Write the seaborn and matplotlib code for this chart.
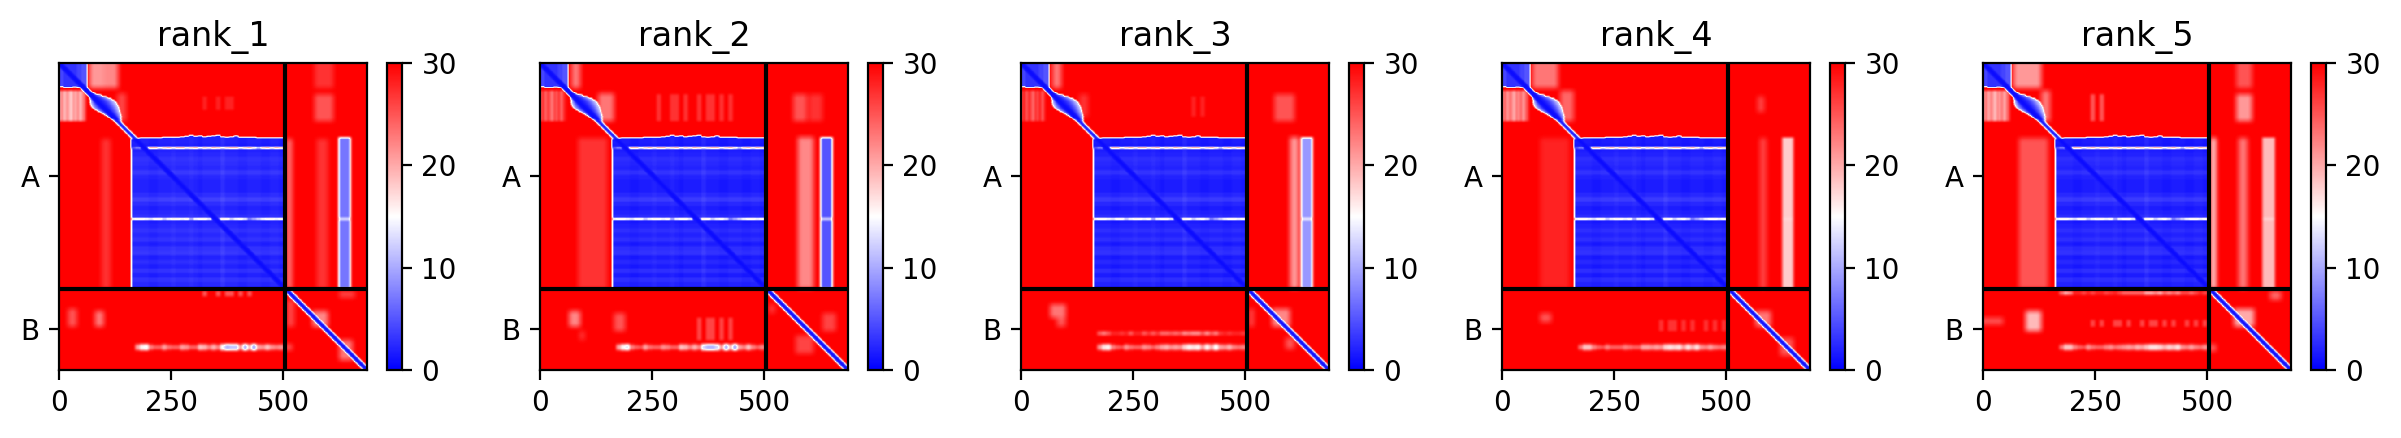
import numpy as np
import seaborn as sns
import matplotlib
matplotlib.use("Agg")
import matplotlib.pyplot as plt

ranks = ["rank_1", "rank_2", "rank_3", "rank_4", "rank_5"]
chain_names = ["A", "B"]
chain_a_len = 505
total_len = 687

# Shared PAE readings. Lists per 10 residues start at residue 160
big_row_levels = [0.8, 0.8, 0.6, 0.8, 1.2, 1.8, 1.5, 1.2, 2.1, 1.2, 0.8, 0.8, 0.8, 1.5, 2.6, 1.5, 0.8, 1.2,
                  1.8, 0.8, 1.2, 1.8, 1.2, 1.8, 0.8, 1.8, 2.1, 0.8, 1.5, 0.8, 1.8, 0.8, 1.8, 1.2, 0.6]
big_col_levels = [0.6, 0.6, 0.6, 0.6, 0.3, 0.3, 0.6, 0.6, 0.6, 0.9, 0.6, 0.6, 0.6, 0.9, 0.6, 0.3, 0.6, 0.6,
                  0.6, 0.6, 1.3, 0.6, 0.6, 0.6, 0.3, 0.3, 0.6, 0.6, 0.6, 0.3, 0.3, 0.6, 0.6, 0.3, 0.3]
big_top_rows = [170, 168, 167, 167, 167, 167, 167, 166, 166, 166, 166, 165, 164, 162, 164, 163, 165, 164, 163,
                162, 165, 166, 165, 163, 166, 166, 166, 166, 167, 167, 167, 167, 167, 167, 167]
line_190 = [5, 8, 12, 20, 24, 24, 18, 22, 24, 20, 24, 24, 20, 22, 24, 18, 22, 20, 24, 22, 18, 22, 24, 24, 18,
            22, 24, 20, 14, 22, 24, 20, 24, 22, 24]
line_349 = [22, 24, 24, 22, 20, 24, 24, 18, 22, 24, 24, 22, 24, 14, 22, 24, 24, 20, 10, 14, 24, 24, 18, 22,
            24, 20, 10, 14, 18, 22, 24, 24, 22, 24, 24]
d1_col_levels = [4, 3, 3, 3, 4, 5, 5]
d1_bottom_rows = [53, 55, 55, 54, 55, 57, 58]
pale_col_offsets = [0, 3, -2, 2, 0, -3, 2, -1, 3, -2, 2, 4]
lens_left = [2, 3, 5, 8, 12, 15, 19, 22, 25, 26, 25, 22, 18, 15, 12, 9, 6, 4, 3]
lens_right = [5, 14, 24, 32, 38, 41, 41, 39, 37, 35, 32, 29, 26, 23, 20, 16, 12, 8, 5]
big_diag_pae = [0.6, 0.6, 0.8, 0.8, 1, 1, 1.2, 1.2, 1.5]
link_diag_pae = [1, 1, 2, 3, 5, 8, 12, 16, 22, 27]
chain_b_diag_pae = [1, 1, 1, 1.5, 2, 3, 6, 10, 15, 20, 25, 28]
tick_pattern = [1, 0, 1, 1, 0, 1, 0, 0, 1, 0, 1, 0, 0, 1, 1, 0, 1, 0, 0, 1, 0, 1, 1, 0, 1, 0, 1, 0, 0, 1, 0, 1, 0, 1, 0]

# Per rank readings
big_offsets = [0.6, 0.3, 0.3, 0.3, 0.3]
pale_bases = [20, 25, 26, 22, 21]
strip_pae = [7, 5, 9, 18, 19]
strip_halo = [19, 19, 20, 26, 26]
strip_cols = [(625, 649), (627, 651), (626, 649), (626, 649), (624, 650)]

# residue 160 onward, per 10 residues, row 636 of chain B
band_rank_1 = [30, 20, 15, 14, 22, 24, 24, 20, 23, 24, 24, 20, 21, 24, 24, 18, 19, 22, 19, 22, 14, 10, 11, 11,
               20, 10, 18, 9, 20, 21, 18, 21, 22, 21, 20]
band_rank_2 = [30, 20, 15, 13, 22, 24, 25, 20, 23, 24, 24, 21, 22, 24, 24, 18, 19, 22, 19, 22, 12, 10, 10, 12,
               20, 10, 18, 9, 20, 22, 18, 22, 24, 22, 22]
band_rank_3 = [30, 21, 16, 15, 22, 24, 25, 21, 23, 24, 24, 21, 22, 24, 22, 20, 19, 21, 20, 21, 17, 15, 16, 15,
               20, 15, 19, 14, 20, 21, 19, 22, 23, 22, 21]
band_rank_4 = [30, 23, 18, 18, 22, 24, 25, 22, 24, 24, 24, 22, 23, 24, 24, 20, 20, 21, 20, 21, 17, 16, 17, 16,
               20, 16, 19, 16, 21, 22, 20, 22, 23, 22, 21]
band_rank_5 = [30, 23, 18, 18, 22, 24, 25, 21, 23, 24, 24, 22, 21, 23, 22, 21, 20, 21, 19, 20, 18, 16, 16, 17,
               19, 17, 18, 16, 21, 22, 20, 22, 23, 21, 21]
bands = [band_rank_1, band_rank_2, band_rank_3, band_rank_4, band_rank_5]

upper_band_rank_3 = [30, 25, 23, 25, 28, 28, 27, 28, 25, 28, 28, 25, 27, 25, 27, 24, 24, 25, 24, 25, 22, 23, 22,
                     22, 25, 22, 25, 23, 27, 28, 27, 28, 28, 27, 27]
top_band_rank_5 = [30, 24, 20, 22, 28, 28, 26, 28, 26, 28, 28, 26, 27, 28, 26, 24, 24, 24, 24, 24, 20, 20, 22, 20,
                   24, 22, 24, 22, 26, 26, 24, 26, 28, 26, 26]
extra_bands = [None, None, upper_band_rank_3, None, top_band_rank_5]
extra_band_rows = [None, None, (600, 610), None, (510, 519)]

# rows start, rows end, cols start, cols end, PAE
patches_rank_1 = [(0, 56, 68, 100, 21), (0, 56, 100, 132, 22), (68, 130, 130, 150, 26),
                  (0, 56, 570, 612, 27), (70, 130, 570, 612, 25), (170, 505, 95, 115, 27), (170, 505, 507, 520, 23),
                  (170, 505, 575, 600, 27), (550, 590, 20, 40, 25), (555, 590, 80, 100, 23),
                  (555, 590, 565, 600, 22), (510, 525, 625, 660, 26), (530, 590, 508, 525, 26), (620, 665, 625, 655, 23),
                  (630, 642, 505, 520, 24)]
patches_rank_2 = [(0, 56, 70, 90, 23), (68, 130, 130, 165, 23), (70, 130, 565, 595, 25),
                  (70, 130, 600, 630, 27), (168, 505, 85, 150, 27), (166, 505, 575, 610, 22), (555, 590, 65, 90, 22),
                  (560, 600, 165, 190, 25), (600, 620, 88, 100, 27), (560, 600, 630, 660, 26),
                  (610, 650, 570, 610, 26), (540, 560, 510, 525, 27)]
patches_rank_3 = [(0, 56, 70, 90, 23), (70, 120, 130, 150, 27), (70, 130, 565, 610, 25),
                  (166, 505, 600, 620, 21), (540, 570, 65, 100, 23), (570, 590, 80, 100, 25),
                  (550, 590, 560, 600, 22), (550, 590, 508, 520, 26), (615, 640, 590, 610, 25)]
patches_rank_4 = [(0, 56, 68, 125, 23), (62, 130, 130, 160, 24), (75, 110, 570, 585, 26), (168, 505, 85, 150, 28),
                  (168, 505, 575, 590, 26), (560, 580, 85, 110, 25), (555, 590, 565, 600, 23),
                  (615, 655, 620, 650, 25)]
patches_rank_5 = [(0, 56, 68, 130, 21), (62, 130, 130, 150, 23),
                  (0, 56, 565, 600, 25), (70, 130, 565, 600, 21), (168, 505, 80, 145, 25), (168, 505, 508, 520, 17),
                  (168, 505, 570, 590, 23), (555, 600, 95, 130, 19), (570, 585, 0, 45, 25),
                  (510, 530, 640, 665, 24), (550, 590, 560, 605, 20), (630, 645, 505, 520, 24)]
patches = [patches_rank_1, patches_rank_2, patches_rank_3, patches_rank_4, patches_rank_5]

# faint vertical ticks: rows start, rows end, cols start, cols end, PAE
ticks_rank_1 = [(75, 105, 320, 400, 28), (510, 522, 320, 430, 25)]
ticks_rank_2 = [(70, 130, 260, 430, 27), (570, 620, 340, 430, 26)]
ticks_rank_3 = [(75, 120, 380, 420, 28)]
ticks_rank_4 = [(575, 600, 350, 500, 27)]
ticks_rank_5 = [(70, 130, 225, 290, 25), (575, 590, 220, 505, 26)]
ticks = [ticks_rank_1, ticks_rank_2, ticks_rank_3, ticks_rank_4, ticks_rank_5]

# left edge in pixels of each heatmap and colorbar
heat_lefts = [59, 540, 1021, 1502, 1983]
cbar_lefts = [387, 868, 1349, 1830, 2311]


def soften(m, width=5):
    # the reference was drawn with image interpolation, so block edges are soft
    pad = width // 2
    for axis in (0, 1):
        pads = [(0, 0), (0, 0)]
        pads[axis] = (pad + 1, pad)
        c = np.cumsum(np.pad(m, pads, mode="edge"), axis=axis)
        m = (np.take(c, range(width, c.shape[axis]), axis=axis) - np.take(c, range(0, c.shape[axis] - width), axis=axis)) / width
    return m


def build_pae(k):
    m = np.full((total_len, total_len), 30.0)

    # broad pale patches
    for r0, r1, c0, c1, v in patches[k]:
        m[r0:r1, c0:c1] = np.minimum(m[r0:r1, c0:c1], v)
    m = soften(m, 15)

    # stripy block under domain 1
    stripes = np.repeat(np.array(pale_col_offsets, float) + pale_bases[k], 5)
    m[62:130, :60] = np.minimum(m[62:130, :60], stripes[:60])

    for r0, r1, c0, c1, v in ticks[k]:
        for b, on in enumerate(tick_pattern):
            a0, a1 = max(160 + b * 10, c0), min(170 + b * 10, c1)
            if on and a0 < a1:
                m[r0:r1, a0:a1] = np.minimum(m[r0:r1, a0:a1], v)

    # beaded bands in chain B
    for b, v in enumerate(bands[k]):
        c0, c1 = 160 + b * 10, min(170 + b * 10, chain_a_len)
        m[628:644, c0:c1] = np.minimum(m[628:644, c0:c1], min(v + 5, 30))
        m[632:640, c0:c1] = np.minimum(m[632:640, c0:c1], v)
        if extra_bands[k] is not None:
            r0, r1 = extra_band_rows[k]
            m[r0:r1, c0:c1] = np.minimum(m[r0:r1, c0:c1], extra_bands[k][b])

    # vertical strip across chain A
    c0, c1 = strip_cols[k]
    m[166:chain_a_len, c0 - 3:c1 + 3] = np.minimum(m[166:chain_a_len, c0 - 3:c1 + 3], strip_halo[k])
    m[167:chain_a_len, c0:c1] = strip_pae[k]
    m[347:351, c0:c1] = 17
    m = soften(m, 7)

    # domain 1
    for i, (level, bottom) in enumerate(zip(d1_col_levels, d1_bottom_rows)):
        m[:bottom, i * 10:min(i * 10 + 10, 63)] = level

    # domain 2 lens, keeps blue near the diagonal and turns white at its rim
    for s, (left, right) in enumerate(zip(lens_left, lens_right)):
        for i in range(62 + s * 4, 62 + (s + 1) * 4):
            for j in range(i - left, i + right):
                m[i, j] = min(m[i, j], 1 + 14 * (abs(j - i) / (left if j < i else right)) ** 2)

    # big domain
    for a, rl in enumerate(big_row_levels):
        for b, cl in enumerate(big_col_levels):
            r0 = max(160 + a * 10, big_top_rows[b])
            m[r0:min(170 + a * 10, chain_a_len), 160 + b * 10:min(170 + b * 10, chain_a_len)] = rl + cl + big_offsets[k]
    m[190:chain_a_len, 160:163] = 14
    for b in range(len(line_190)):
        c0, c1 = 160 + b * 10, min(170 + b * 10, chain_a_len)
        m[188:192, c0:c1] = line_190[b]
        m[347:351, c0:c1] = line_349[b]

    # diagonals
    for i in range(total_len):
        if i >= chain_a_len:
            profile = chain_b_diag_pae
        elif 126 <= i < 170:
            profile = link_diag_pae
        else:
            profile = big_diag_pae
        for d, v in enumerate(profile):
            for j in (i - d, i + d):
                if 0 <= j < total_len and (j >= chain_a_len) == (i >= chain_a_len):
                    m[i, j] = min(m[i, j], v)

    return np.clip(soften(m, 5), 0, 30)


dpi = 200
w_px, h_px = 2401, 438
fig = plt.figure(figsize=(w_px / dpi, h_px / dpi), dpi=dpi)

for k, name in enumerate(ranks):
    ax = fig.add_axes([heat_lefts[k] / w_px, 1 - 370 / h_px, 308 / w_px, 307 / h_px])
    cax = fig.add_axes([cbar_lefts[k] / w_px, 1 - 370 / h_px, 15 / w_px, 307 / h_px])
    sns.heatmap(build_pae(k), ax=ax, cbar_ax=cax, cmap="bwr", vmin=0, vmax=30,
                xticklabels=False, yticklabels=False, cbar_kws={"ticks": [0, 10, 20, 30]})
    ax.set_xticks([0, 250, 500])
    ax.set_xticklabels(["0", "250", "500"], rotation=0)
    ax.set_yticks([chain_a_len / 2, (chain_a_len + total_len) / 2])
    ax.set_yticklabels(chain_names, rotation=0)
    ax.axvline(chain_a_len, color="black", lw=1.5)
    ax.axhline(chain_a_len, color="black", lw=1.5)
    for sp in ax.spines.values():
        sp.set_visible(True)
        sp.set_linewidth(0.8)
    ax.collections[0].colorbar.outline.set_linewidth(0.8)
    ax.set_title(name, fontsize=12)

fig.savefig("out.png", dpi=dpi)
